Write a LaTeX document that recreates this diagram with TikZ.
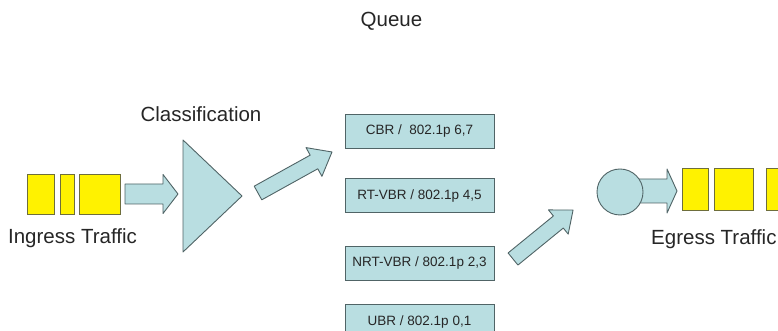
\documentclass[tikz,border=0pt]{standalone}
\usepackage{fontspec}
\setmainfont{Liberation Sans}
\definecolor{cyanfill}{RGB}{185,222,225}
\definecolor{boxline}{RGB}{80,100,102}
\definecolor{pktline}{RGB}{110,110,60}
\begin{document}
\begin{tikzpicture}[x=1pt,y=1pt,
  lbl/.style={font=\fontsize{20.5}{24}\selectfont, text=black!85, inner sep=0, anchor=base},
  qbox/.style={draw=boxline, fill=cyanfill, line width=1pt, minimum width=149pt, minimum height=34pt, inner sep=0, font=\fontsize{13.5}{16}\selectfont, text=black!85},
  pkt/.style={draw=pktline, fill=yellow, line width=0.9pt},
  blk/.style={draw=boxline, fill=cyanfill, line width=0.9pt, line join=round}]
\useasboundingbox (0,0) rectangle (778,331);
\clip (0,0) rectangle (778,331);

% labels
\node[lbl] (queue) at (391.5,304) {Queue};
\node[lbl] (classif) at (201,209) {Classification};
\node[lbl] (ingress) at (72.5,87) {Ingress Traffic};
\node[lbl, anchor=base west] (egress) at (651,86) {Egress Traffic};

% queue boxes
\node[qbox] (cbr) at (419.5,199.5) {CBR / \ 802.1p 6,7};
\node[qbox] (rtvbr) at (419.5,135) {RT-VBR / 802.1p 4,5};
\node[qbox] (nrtvbr) at (419.5,67.5) {NRT-VBR / 802.1p 2,3};
\node[qbox] (ubr) at (419.5,9) {UBR / 802.1p 0,1};

% ingress packets
\draw[pkt] (27,117) rectangle (54,157);
\draw[pkt] (60,117) rectangle (74,157);
\draw[pkt] (79,117) rectangle (120,157);

% ingress arrow
\draw[blk] (125,147)--(163,147)--(163,156.5)--(178,137)--(163,117.5)--(163,127)--(125,127)--cycle;

% classifier triangle
\draw[blk] (183,191)--(242,135)--(183,79)--cycle;

% arrow to queues
\begin{scope}[shift={(258,138)}, rotate=29]
\draw[blk] (0,7.8)--(64,7.8)--(64,16.4)--(84.6,0)--(64,-16.4)--(64,-7.8)--(0,-7.8)--cycle;
\end{scope}

% arrow from queues
\begin{scope}[shift={(513,72)}, rotate=39.2]
\draw[blk] (0,7.8)--(58.5,7.8)--(58.5,15.6)--(77.5,0)--(58.5,-15.6)--(58.5,-7.8)--(0,-7.8)--cycle;
\end{scope}

% scheduler
\draw[blk] (636,152)--(667,152)--(667,162)--(677,140)--(667,118)--(667,128)--(636,128)--cycle;
\node[circle, draw=boxline, fill=cyanfill, line width=0.9pt, minimum size=46pt, inner sep=0] (sched) at (620,139) {};

% egress packets
\draw[pkt] (682,121) rectangle (708,163);
\draw[pkt] (714,121) rectangle (753,163);
\draw[pkt] (766,121) rectangle (790,163);
\end{tikzpicture}
\end{document}
